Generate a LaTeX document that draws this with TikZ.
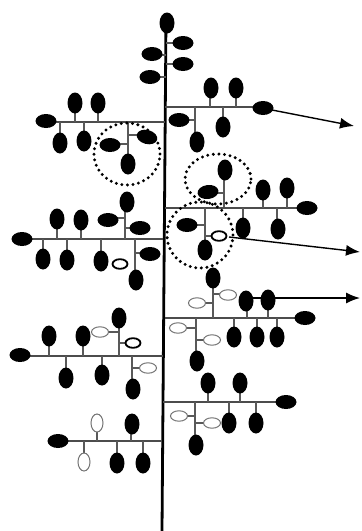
\documentclass[tikz,border=0pt]{standalone}
\usetikzlibrary{arrows.meta}

\begin{document}
\begin{tikzpicture}[x=1pt, y=-1pt,
    stm/.style={line width=2.8pt, black},
    brn/.style={line width=1.8pt, black!70},
    stb/.style={line width=1.3pt, black!65},
    vl/.style={fill=black, x radius=7.5pt, y radius=10.5pt},
    hl/.style={fill=black, x radius=10.5pt, y radius=7pt},
    ho/.style={draw=black!55, line width=1pt, fill=white, x radius=8.5pt, y radius=5.2pt},
    vo/.style={draw=black!55, line width=1pt, fill=white, x radius=6pt, y radius=9pt},
    hk/.style={draw=black, line width=1.8pt, fill=white, x radius=7.5pt, y radius=4.8pt},
    ring/.style={line width=3.3pt, dash pattern=on 0pt off 5.6pt, line cap=round},
    arw/.style={line width=1.4pt, -{Latex[length=14pt, width=11pt]}}]
  \useasboundingbox[fill=white] (0,0) rectangle (362,531);
  \draw[stm] (166,18) -- (162,531);

  % top of the shoot
  \draw[stb] (166,43) -- (176,43) (158,55) -- (166,55) (166,64) -- (176,64) (157,77) -- (166,77);
  \path[vl] (167,23) ellipse;
  \foreach \p in {{183,43},{152,54},{183,64},{150,77}} \path[hl] (\p) ellipse;

  % left, first
  \draw[brn] (50,122) -- (165,122);
  \draw[stb] (75,104) -- (75,122) (98,104) -- (98,122) (60,122) -- (60,140) (84,122) -- (84,140)
    (128,122) -- (128,160) (118,144) -- (128,144) (128,135) -- (140,135);
  \foreach \p in {{75,103},{98,103},{60,143},{84,141},{128,164}} \path[vl] (\p) ellipse;
  \foreach \p in {{46,121},{110,145}} \path[hl] (\p) ellipse;
  \path[hl, rotate around={-15:(147,137)}] (147,137) ellipse;

  % right, first
  \draw[brn] (165,107) -- (258,107);
  \draw[stb] (210,90) -- (210,107) (236,90) -- (236,107) (223,107) -- (223,120)
    (195,107) -- (195,136) (186,120) -- (195,120);
  \foreach \p in {{211,88},{236,88},{223,127},{197,142}} \path[vl] (\p) ellipse;
  \foreach \p in {{263,108},{179,120}} \path[hl] (\p) ellipse;
  \draw[arw] (272,110) -- (354,126);

  % right, second
  \draw[stb] (224,172) -- (224,208) (214,193) -- (224,193);
  \path[vl] (225,170) ellipse;
  \path[hl, rotate around={8:(208,192)}] (208,192) ellipse;
  \draw[brn] (165,208) -- (298,208);
  \draw[stb] (263,192) -- (263,208) (287,190) -- (287,208) (243,208) -- (243,222) (277,208) -- (277,222)
    (205,208) -- (205,245) (195,225) -- (205,225) (205,236) -- (212,236);
  \foreach \p in {{263,190},{287,188},{243,228},{278,229},{205,250}} \path[vl] (\p) ellipse;
  \foreach \p in {{307,208},{187,225}} \path[hl] (\p) ellipse;
  \path[hk] (219,236) ellipse;
  \draw[arw] (229,237) -- (360,252);

  % left, second
  \draw[brn] (30,239) -- (163,239);
  \draw[stb] (57,221) -- (57,239) (81,222) -- (81,239) (43,239) -- (43,255) (67,239) -- (67,255) (101,239) -- (101,255)
    (125,205) -- (125,239) (116,218) -- (125,218) (125,228) -- (132,228)
    (135,239) -- (135,276) (135,253) -- (142,253);
  \foreach \p in {{57,219},{81,220},{127,202},{43,259},{67,260},{101,261},{136,280}} \path[vl] (\p) ellipse;
  \foreach \p in {{22,239},{108,220},{140,228},{150,254}} \path[hl] (\p) ellipse;
  \path[hk] (120,264) ellipse;

  \draw[ring] (127,154) ellipse [x radius=33pt, y radius=31pt];
  \draw[ring] (218,179) ellipse [x radius=33pt, y radius=25pt];
  \draw[ring] (200,235) circle [radius=33pt];

  % right, third
  \draw[brn] (165,318) -- (297,318);
  \draw[stb] (213,282) -- (213,318) (213,294) -- (221,294) (205,303) -- (213,303)
    (247,305) -- (247,318) (268,305) -- (268,318)
    (234,318) -- (234,330) (257,318) -- (257,330) (277,318) -- (277,330)
    (196,318) -- (196,356) (186,328) -- (196,328) (196,340) -- (204,340);
  \draw[arw] (253,298) -- (360,298);
  \foreach \p in {{213,278},{246,301},{268,300},{234,337},{257,337},{277,337},{197,361}} \path[vl] (\p) ellipse;
  \path[hl] (305,318) ellipse;
  \foreach \p in {{228,295},{197,303},{178,328},{212,340}} \path[ho] (\p) ellipse;

  % left, third
  \draw[brn] (28,356) -- (163,356);
  \draw[stb] (49,338) -- (49,356) (83,338) -- (83,356) (66,356) -- (66,372) (102,356) -- (102,370)
    (119,322) -- (119,356) (108,332) -- (119,332) (119,343) -- (126,343)
    (132,356) -- (132,385) (132,368) -- (140,368);
  \foreach \p in {{49,336},{83,336},{119,318},{66,378},{102,375},{133,389}} \path[vl] (\p) ellipse;
  \path[hl] (20,355) ellipse;
  \foreach \p in {{100,332},{148,368}} \path[ho] (\p) ellipse;
  \path[hk] (133,343) ellipse;

  % right, fourth
  \draw[brn] (163,402) -- (277,402);
  \draw[stb] (208,385) -- (208,402) (240,385) -- (240,402) (229,402) -- (229,418) (256,402) -- (256,418)
    (195,402) -- (195,440) (187,416) -- (195,416) (195,423) -- (204,423);
  \foreach \p in {{208,383},{240,383},{229,423},{256,423},{196,445}} \path[vl] (\p) ellipse;
  \path[hl] (286,402) ellipse;
  \foreach \p in {{179,416},{212,423}} \path[ho] (\p) ellipse;

  % left, fourth
  \draw[brn] (67,441) -- (162,441);
  \draw[stb] (97,428) -- (97,441) (131,426) -- (131,441) (84,441) -- (84,456) (117,441) -- (117,456) (143,441) -- (143,456);
  \foreach \p in {{132,424},{117,463},{143,463}} \path[vl] (\p) ellipse;
  \path[hl] (58,441) ellipse;
  \foreach \p in {{97,423},{84,462}} \path[vo] (\p) ellipse;
\end{tikzpicture}
\end{document}
